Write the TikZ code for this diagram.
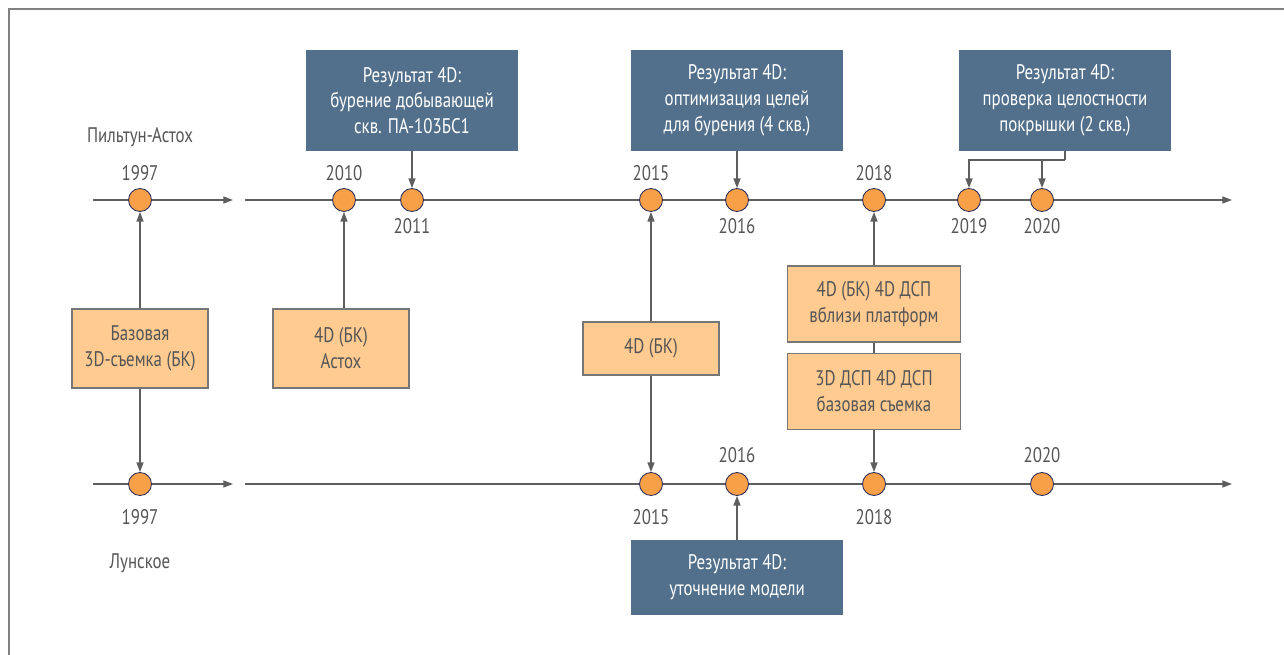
\documentclass[tikz,border=0pt]{standalone}
\usepackage{fontspec}
\setmainfont{PT Sans}[FakeStretch=0.8]
\usetikzlibrary{arrows.meta}
\definecolor{resblue}{HTML}{52708C}
\definecolor{surforange}{HTML}{FFCB91}
\definecolor{dotorange}{HTML}{F8A048}
\definecolor{dotedge}{HTML}{2A2E5C}
\definecolor{linegray}{HTML}{5E5E5E}
\definecolor{txtgray}{HTML}{555555}
\tikzset{
  lbl/.style={text=txtgray, font=\fontsize{12}{14.7}\selectfont, inner sep=0pt},
  result/.style={fill=resblue, text=white, font=\fontsize{12}{14.7}\selectfont,
    align=center, inner sep=0pt, minimum width=4.26cm},
  survey/.style={fill=surforange, draw=linegray!85, line width=0.6pt, text=txtgray,
    font=\fontsize{12}{14.7}\selectfont, align=center, inner sep=0pt},
  event/.style={circle, fill=dotorange, draw=dotedge, line width=0.5pt,
    minimum size=0.46cm, inner sep=0pt},
  axis/.style={draw=linegray, line width=0.7pt},
  link/.style={draw=linegray, line width=0.7pt, -{Triangle[length=5.5pt,width=4pt]}}
}
\begin{document}
\begin{tikzpicture}[x=0.02cm, y=-0.02cm]
  \useasboundingbox (0,0) rectangle (1284,655);
  \draw[gray, line width=0.8pt] (9,655) -- (9,9) -- (1284,9);

  % field names
  \node [lbl] (piltun) at (140,137) {Пильтун-Астох};
  \node [lbl] (lunskoe) at (140,563) {Лунское};

  % time axes
  \coordinate (ta0) at (93,200);  \coordinate (ta1) at (233,200);
  \coordinate (ta2) at (245,200); \coordinate (ta3) at (1232,200);
  \coordinate (ba0) at (93,484);  \coordinate (ba1) at (233,484);
  \coordinate (ba2) at (245,484); \coordinate (ba3) at (1232,484);
  \draw[link] (ta0) -- (ta1);
  \draw[link] (ta2) -- (ta3);
  \draw[link] (ba0) -- (ba1);
  \draw[link] (ba2) -- (ba3);

  % events, upper axis
  \node [event] (t1997) at (140,200) {};
  \node [event] (t2010) at (344,200) {};
  \node [event] (t2011) at (412,200) {};
  \node [event] (t2015) at (651,200) {};
  \node [event] (t2016) at (737,200) {};
  \node [event] (t2018) at (874,200) {};
  \node [event] (t2019) at (969,200) {};
  \node [event] (t2020) at (1042,200) {};
  \node [lbl] at (140,173) {1997};
  \node [lbl] at (344,173) {2010};
  \node [lbl] at (412,226) {2011};
  \node [lbl] at (651,173) {2015};
  \node [lbl] at (737,226) {2016};
  \node [lbl] at (874,173) {2018};
  \node [lbl] at (969,226) {2019};
  \node [lbl] at (1042,226) {2020};

  % events, lower axis
  \node [event] (b1997) at (140,484) {};
  \node [event] (b2015) at (651,484) {};
  \node [event] (b2016) at (737,484) {};
  \node [event] (b2018) at (874,484) {};
  \node [event] (b2020) at (1042,484) {};
  \node [lbl] at (140,517) {1997};
  \node [lbl] at (651,517) {2015};
  \node [lbl] at (737,455) {2016};
  \node [lbl] at (874,517) {2018};
  \node [lbl] at (1042,455) {2020};

  % 4D results
  \node [result, minimum height=2.02cm] (res1) at (412,100.5)
    {Результат 4D:\\бурение добывающей\\скв. ПА-103БС1};
  \node [result, minimum height=2.02cm] (res2) at (737,100.5)
    {Результат 4D:\\оптимизация целей\\для бурения (4 скв.)};
  \node [result, minimum height=2.02cm] (res3) at (1065,100.5)
    {Результат 4D:\\проверка целостности\\покрышки (2 скв.)};
  \node [result, minimum height=1.5cm] (res4) at (737,577.5)
    {Результат 4D:\\уточнение модели};

  % surveys
  \node [survey, minimum width=2.72cm, minimum height=1.58cm] (base) at (140,348.5)
    {Базовая\\3D-съемка (БК)};
  \node [survey, minimum width=2.72cm, minimum height=1.58cm] (astokh) at (341,348.5)
    {4D (БК)\\Астох};
  \node [survey, minimum width=2.72cm, minimum height=1.06cm] (bk15) at (651,348.5)
    {4D (БК)};
  \node [survey, minimum width=3.46cm, minimum height=1.52cm] (dsp4) at (874,304)
    {4D (БК) 4D ДСП\\вблизи платформ};
  \node [survey, minimum width=3.46cm, minimum height=1.52cm] (dsp3) at (874,391.5)
    {3D ДСП 4D ДСП\\базовая съемка};

  % connectors
  \draw[link] (base.north) -- (t1997.south);
  \draw[link] (base.south) -- (b1997.north);
  \draw[link] (astokh.north -| t2010) -- (t2010.south);
  \draw[link] (bk15.north) -- (t2015.south);
  \draw[link] (bk15.south) -- (b2015.north);
  \draw[link] (dsp4.north) -- (t2018.south);
  \draw[axis] (dsp4.south) -- (dsp3.north);
  \draw[link] (dsp3.south) -- (b2018.north);
  \draw[link] (res1.south) -- (t2011.north);
  \draw[link] (res2.south) -- (t2016.north);
  \draw[link] (res4.north) -- (b2016.south);
  \coordinate (split) at (1065,160);
  \draw[axis] (res3.south) -- (split);
  \draw[link] (split) -| (t2019.north);
  \draw[link] (split) -| (t2020.north);
\end{tikzpicture}
\end{document}
